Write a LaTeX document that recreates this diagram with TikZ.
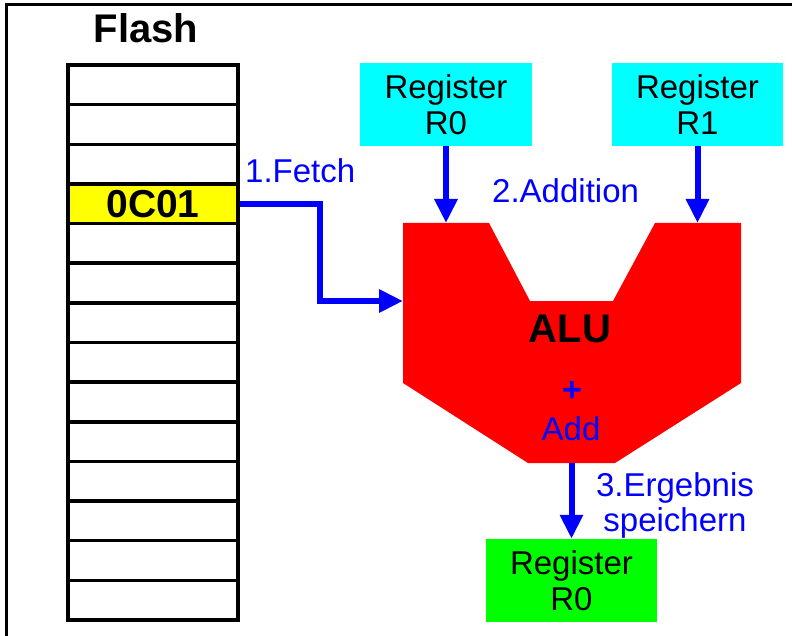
\documentclass[tikz,border=0pt]{standalone}
\usepackage{fontspec}
\setmainfont{Liberation Sans}
\usepackage{tikz}
\usetikzlibrary{arrows.meta}
\definecolor{regcyan}{RGB}{0,255,255}
\definecolor{reggreen}{RGB}{0,255,0}
\definecolor{alured}{RGB}{255,0,0}
\definecolor{cellyellow}{RGB}{255,255,0}
\definecolor{flowblue}{RGB}{0,0,255}

\begin{document}
\begin{tikzpicture}[
        x=1pt, y=-1pt,
        every node/.append style={font=\fontsize{33}{36}\selectfont}
    ]
    \tikzstyle{cell}=[draw,line width=3.5pt,minimum width=170pt,minimum height=39.64pt,inner sep=0pt,fill=white];
    \tikzstyle{reg}=[minimum width=171pt,minimum height=83pt,align=center,inner sep=0pt];
    \tikzstyle{flow}=[draw=flowblue,line width=6pt,-{Triangle[length=24pt,width=22pt]}];
    \tikzstyle{lbl}=[text=flowblue,inner sep=0pt];
    \useasboundingbox (0,0) rectangle (792,636);
    % frame
    \draw[line width=3pt] (6,640) -- (6,5) -- (796,5);
    % flash
    \node[font=\fontsize{40}{40}\selectfont\bfseries,anchor=base] (flash) at (146,43) {Flash};
    \foreach \i in {1,...,14}
        \node[cell] (c\i) at (153,{65+(\i-0.5)*39.64}) {};
    \node[cell,fill=cellyellow,font=\fontsize{39}{39}\selectfont\bfseries] (c4) at (153,{65+3.5*39.64}) {0C01};
    % registers
    \node[reg,fill=regcyan,minimum width=172pt] (regA) at (446,104.5) {Register\\R0};
    \node[reg,fill=regcyan] (regB) at (697.5,104.5) {Register\\R1};
    \node[reg,fill=reggreen] (regC) at (571.5,580.5) {Register\\R0};
    % alu
    \fill[alured] (403,223) -- (489,223) -- (530,301) -- (613,301) -- (655,223) -- (741,223)
        -- (741,383) -- (615,463) -- (528,463) -- (403,383) -- cycle;
    \node[font=\fontsize{40}{40}\selectfont\bfseries,anchor=base] (alu) at (570,342) {ALU};
    \node[lbl,font=\fontsize{34}{34}\selectfont\bfseries] (plus) at (572,392) {+};
    \node[lbl,anchor=base] (add) at (571,440) {Add};
    \coordinate (aluA) at (446,223);
    \coordinate (aluB) at (697.5,223);
    \coordinate (aluIn) at (403,301);
    \coordinate (aluOut) at (571.5,463);
    % arrows
    \draw[flow] (c4.east) -- ++(80,0) |- (aluIn);
    \draw[flow] (regA) -- (aluA);
    \draw[flow] (regB) -- (aluB);
    \draw[flow] (aluOut) -- (regC);
    % labels
    \node[lbl,anchor=base west] (fetch) at (245,183) {1.Fetch};
    \node[lbl,anchor=base west] (addit) at (492,203) {2.Addition};
    \node[lbl,align=center,font=\fontsize{33}{35}\selectfont] (store) at (675,505) {3.Ergebnis\\speichern};
\end{tikzpicture}
\end{document}
